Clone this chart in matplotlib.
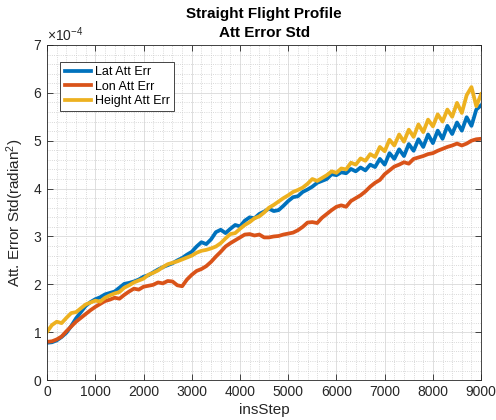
"""Attitude error std over insStep, straight flight profile (MATLAB-style look)."""

import numpy as np
import matplotlib
matplotlib.use("Agg")
import matplotlib.pyplot as plt
from matplotlib.ticker import MultipleLocator, ScalarFormatter

plt.rcParams["font.family"] = ["Liberation Sans", "DejaVu Sans"]
plt.rcParams["mathtext.fontset"] = "custom"
plt.rcParams["mathtext.rm"] = "Liberation Sans"
plt.rcParams["mathtext.it"] = "Liberation Sans"

# === DATA (in units of 1e-4 rad^2) ===
ins_step = list(range(0, 9001, 100))

lat_att_err = [
    0.78, 0.79, 0.83, 0.90, 0.99, 1.13, 1.29, 1.42, 1.55, 1.63,
    1.69, 1.73, 1.79, 1.82, 1.85, 1.93, 2.01, 2.03, 2.06, 2.10,
    2.16, 2.19, 2.25, 2.31, 2.36, 2.40, 2.44, 2.50, 2.55, 2.62,
    2.68, 2.79, 2.88, 2.84, 2.94, 3.09, 3.14, 3.07, 3.16, 3.24,
    3.21, 3.33, 3.40, 3.38, 3.47, 3.52, 3.58, 3.53, 3.55, 3.64,
    3.74, 3.82, 3.84, 3.93, 3.98, 4.04, 4.12, 4.16, 4.20, 4.30,
    4.28, 4.34, 4.32, 4.41, 4.36, 4.44, 4.38, 4.50, 4.45, 4.62,
    4.50, 4.74, 4.62, 4.82, 4.68, 4.93, 4.79, 5.03, 4.87, 5.13,
    4.95, 5.21, 5.04, 5.31, 5.14, 5.38, 5.21, 5.49, 5.31, 5.65,
    5.74,
]

lon_att_err = [
    0.80, 0.81, 0.85, 0.91, 1.02, 1.12, 1.22, 1.30, 1.38, 1.46,
    1.53, 1.59, 1.65, 1.68, 1.72, 1.70, 1.78, 1.85, 1.91, 1.89,
    1.95, 1.97, 1.99, 2.04, 2.02, 2.07, 2.06, 1.98, 1.96, 2.10,
    2.20, 2.28, 2.32, 2.38, 2.47, 2.58, 2.68, 2.79, 2.86, 2.92,
    2.98, 3.04, 3.05, 3.02, 3.04, 2.98, 2.98, 3.00, 3.01, 3.04,
    3.06, 3.08, 3.13, 3.20, 3.29, 3.30, 3.28, 3.39, 3.47, 3.55,
    3.62, 3.65, 3.62, 3.74, 3.80, 3.86, 3.94, 4.04, 4.12, 4.18,
    4.30, 4.38, 4.46, 4.50, 4.55, 4.52, 4.62, 4.65, 4.68, 4.72,
    4.74, 4.79, 4.83, 4.87, 4.90, 4.94, 4.90, 4.94, 5.00, 5.03,
    5.04,
]

height_att_err = [
    1.01, 1.15, 1.22, 1.19, 1.30, 1.40, 1.42, 1.50, 1.58, 1.62,
    1.66, 1.64, 1.72, 1.77, 1.81, 1.84, 1.93, 1.98, 2.04, 2.08,
    2.12, 2.20, 2.24, 2.29, 2.36, 2.42, 2.45, 2.48, 2.52, 2.56,
    2.60, 2.66, 2.70, 2.72, 2.75, 2.79, 2.86, 2.96, 3.05, 3.07,
    3.16, 3.24, 3.30, 3.38, 3.42, 3.50, 3.60, 3.66, 3.73, 3.80,
    3.86, 3.93, 3.97, 4.02, 4.10, 4.20, 4.16, 4.22, 4.28, 4.36,
    4.33, 4.42, 4.40, 4.54, 4.50, 4.63, 4.58, 4.72, 4.66, 4.87,
    4.78, 5.02, 4.90, 5.13, 4.98, 5.23, 5.08, 5.34, 5.18, 5.44,
    5.30, 5.55, 5.40, 5.65, 5.50, 5.79, 5.58, 5.95, 6.12, 5.72,
    5.97,
]

series_labels = ["Lat Att Err", "Lon Att Err", "Height Att Err"]
scale = 1e-4

# MATLAB default color order
colors = ["#0072BD", "#D95319", "#EDB120"]
axis_gray = "#262626"

# === PLOT ===
fig = plt.figure(figsize=(4.96, 4.20), dpi=100)
ax = fig.add_axes([0.095, 0.095, 0.875, 0.798])

for vals, lab, col in zip([lat_att_err, lon_att_err, height_att_err], series_labels, colors):
    ax.plot(ins_step, np.array(vals) * scale, color=col, linewidth=2.7, label=lab)

ax.set_xlim(0, 9000)
ax.set_ylim(0, 7e-4)
ax.xaxis.set_major_locator(MultipleLocator(1000))
ax.xaxis.set_minor_locator(MultipleLocator(200))
ax.yaxis.set_major_locator(MultipleLocator(1e-4))
ax.yaxis.set_minor_locator(MultipleLocator(0.2e-4))

fmt = ScalarFormatter(useMathText=True)
fmt.set_powerlimits((0, 0))
ax.yaxis.set_major_formatter(fmt)
ax.yaxis.get_offset_text().set_fontsize(10)
ax.yaxis.get_offset_text().set_color(axis_gray)

ax.grid(True, which="major", color="#d9d9d9", linewidth=0.6)
ax.grid(True, which="minor", color="#cccccc", linestyle=":", linewidth=0.6)
ax.set_axisbelow(True)

ax.tick_params(which="both", direction="in", top=True, right=True,
               colors=axis_gray, labelsize=10)
ax.tick_params(which="major", length=4, width=0.6)
ax.tick_params(which="minor", length=0)
for sp in ax.spines.values():
    sp.set_color(axis_gray)
    sp.set_linewidth(0.6)

ax.set_xlabel("insStep", fontsize=11, color=axis_gray, labelpad=3)
ax.set_ylabel("Att. Error Std(radian$^2$)", fontsize=11, color=axis_gray, labelpad=5)
ax.set_title("Straight Flight Profile\nAtt Error Std", fontsize=11,
             fontweight="bold", color="black", pad=6, linespacing=1.45)

leg = ax.legend(loc="upper left", bbox_to_anchor=(0.03, 0.95), fontsize=9,
                frameon=True, fancybox=False, borderpad=0.35, labelspacing=0.2,
                handlelength=2.1, handletextpad=0.3, borderaxespad=0)
leg.get_frame().set_edgecolor(axis_gray)
leg.get_frame().set_linewidth(0.6)
leg.get_frame().set_alpha(1)

plt.savefig("out.png", dpi=100)
print("Saved: out.png")
